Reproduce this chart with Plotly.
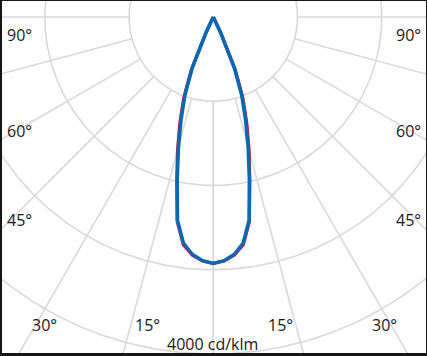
import numpy as np
import plotly.graph_objects as go

# ---- data (cd/klm) ----
gamma_deg = [0, 2.5, 5, 7.5, 10, 12.5, 15, 17.5, 20, 22.5, 25, 27.5, 30, 45, 60, 90, 180]
c0_180 = [2925, 2895, 2830, 2710, 2450, 1980, 1600, 1270, 985, 650, 200, 0, 0, 0, 0, 0, 0]
c90_270 = [2925, 2900, 2840, 2725, 2465, 2000, 1640, 1320, 1030, 690, 230, 0, 0, 0, 0, 0, 0]
ring_values = [1000, 2000, 3000, 4000]
spoke_angles = [0, 15, 30, 45, 60, 75, 90, 105, 120, 135, 150, 165, 180]
side_labels = ["90°", "60°", "45°"]
bottom_labels = ["30°", "15°", "15°", "30°"]
unit_label = "4000 cd/klm"

# ---- geometry (pixel mapping) ----
W, H = 427, 356
ML, MR, MT, MB = 2, 1, 1, 3
CX, CY = 213.3, 17.0
PX = 84.25 / 1000.0


def to_data(px, py):
    return (px - CX) / PX, -(py - CY) / PX


x0, y_top = to_data(ML, MT)
x1, y_bot = to_data(W - MR, H - MB)

fig = go.Figure()
grid_col = "#d9d9d9"

# rings
t = np.linspace(0, 2 * np.pi, 721)
for r in ring_values:
    fig.add_trace(go.Scatter(x=r * np.sin(t), y=r * np.cos(t), mode="lines",
                             line=dict(color=grid_col, width=1.6), hoverinfo="skip"))
# spokes
for a in spoke_angles:
    ar = np.radians(a)
    r0, r1 = ring_values[0], 7000
    for s in (-1, 1):
        fig.add_trace(go.Scatter(x=[s * r0 * np.sin(ar), s * r1 * np.sin(ar)],
                                 y=[-r0 * np.cos(ar), -r1 * np.cos(ar)], mode="lines",
                                 line=dict(color=grid_col, width=1.6), hoverinfo="skip"))


def curve(vals):
    g = np.radians(np.array(gamma_deg))
    v = np.array(vals, dtype=float)
    xl = -v[::-1] * np.sin(g[::-1])
    yl = -v[::-1] * np.cos(g[::-1])
    xr = v[1:] * np.sin(g[1:])
    yr = -v[1:] * np.cos(g[1:])
    return np.concatenate([xl, xr]), np.concatenate([yl, yr])


xr_, yr_ = curve(c90_270)
fig.add_trace(go.Scatter(x=xr_, y=yr_, mode="lines", line=dict(color="#e30a1e", width=3.2),
                         hoverinfo="skip"))
xb, yb = curve(c0_180)
fig.add_trace(go.Scatter(x=xb, y=yb, mode="lines", line=dict(color="#0a69b2", width=3.6),
                         hoverinfo="skip"))

font = dict(family="Open Sans", size=16, color="#1a1a1a")
ann = []
side_y = [35, 131, 220]
for lab, py in zip(side_labels, side_y):
    for px in (19, 408):
        x, y = to_data(px, py)
        ann.append(dict(x=x, y=y, text=lab, showarrow=False, xanchor="center",
                        yanchor="middle", font=font))
for lab, px in zip(bottom_labels, [44, 147.5, 280.5, 384.5]):
    x, y = to_data(px, 324.5)
    ann.append(dict(x=x, y=y, text=lab, showarrow=False, xanchor="center",
                    yanchor="middle", font=font))
x, y = to_data(212.5, 344)
ann.append(dict(x=x, y=y, text=unit_label, showarrow=False, xanchor="center",
                yanchor="middle", font=font))

fig.update_layout(
    width=W, height=H,
    margin=dict(l=ML, r=MR, t=MT, b=MB, pad=0),
    paper_bgcolor="#151515", plot_bgcolor="white",
    showlegend=False, annotations=ann,
    xaxis=dict(visible=False, range=[x0, x1], fixedrange=True),
    yaxis=dict(visible=False, range=[y_bot, y_top], fixedrange=True),
)
fig.write_html(
    "out.html",
    config={"displayModeBar": False, "staticPlot": True},
    post_script="document.body.style.margin='0';document.body.style.overflow='hidden';"
                "document.documentElement.style.overflow='hidden';",
)
